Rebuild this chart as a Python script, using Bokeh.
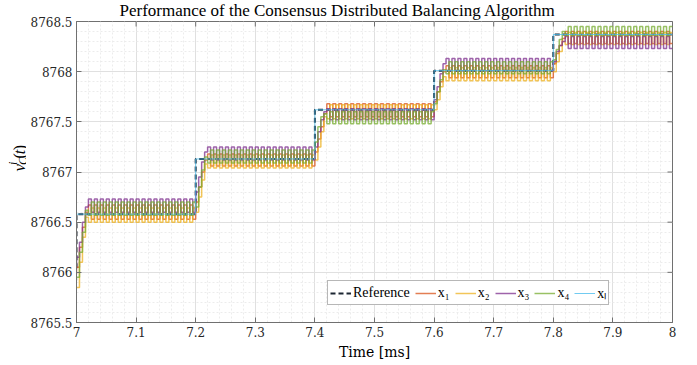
import math
from bokeh.plotting import figure
from bokeh.layouts import row
from bokeh.core.properties import value
from bokeh.models import Range1d, Legend, LegendItem, FixedTicker, CustomJSTickFormatter
from bokeh.embed import file_html
from bokeh.resources import INLINE

# ---------------- data ----------------
step_times = [7.0, 7.2, 7.4, 7.6, 7.8]
t_start = 6.99
t_end = 8.0
half_period = 0.005

ref_before = 8766.02
ref_levels = [8766.58, 8767.13, 8767.62, 8768.01, 8768.37]
xL_before = 8766.02
xL_levels = [8766.58, 8767.13, 8767.62, 8768.01, 8768.37]

# x1 (orange)
x1_start = 8765.98
x1_hi = [8766.67, 8767.18, 8767.68, 8768.06, 8768.40]
x1_lo = [8766.53, 8767.06, 8767.55, 8767.94, 8768.28]
x1_ramp = [[8766.05, 8766.25, 8766.45, 8766.60],
           [8766.70, 8766.85, 8767.00, 8767.12],
           [8767.20, 8767.33, 8767.45, 8767.58],
           [8767.70, 8767.80, 8767.90, 8768.00],
           [8768.08, 8768.18, 8768.26, 8768.33]]
# x2 (yellow)
x2_start = 8765.85
x2_hi = [8766.64, 8767.17, 8767.67, 8768.04, 8768.39]
x2_lo = [8766.50, 8767.04, 8767.53, 8767.91, 8768.27]
x2_ramp = [[8765.85, 8766.10, 8766.35, 8766.55],
           [8766.60, 8766.75, 8766.92, 8767.08],
           [8767.12, 8767.25, 8767.40, 8767.55],
           [8767.62, 8767.72, 8767.85, 8767.95],
           [8768.00, 8768.10, 8768.20, 8768.30]]
# x3 (purple)
x3_start = 8766.05
x3_hi = [8766.73, 8767.25, 8767.63, 8768.13, 8768.35]
x3_lo = [8766.60, 8767.12, 8767.52, 8768.01, 8768.23]
x3_ramp = [[8766.15, 8766.30, 8766.50, 8766.65],
           [8766.80, 8766.95, 8767.10, 8767.20],
           [8767.25, 8767.40, 8767.52, 8767.60],
           [8767.72, 8767.85, 8767.98, 8768.08],
           [8768.10, 8768.20, 8768.26, 8768.30]]
# x4 (green)
x4_start = 8765.92
x4_hi = [8766.70, 8767.22, 8767.60, 8768.10, 8768.45]
x4_lo = [8766.57, 8767.09, 8767.48, 8767.98, 8768.36]
x4_ramp = [[8765.95, 8766.20, 8766.40, 8766.62],
           [8766.65, 8766.85, 8767.02, 8767.15],
           [8767.30, 8767.45, 8767.55, 8767.58],
           [8767.68, 8767.80, 8767.92, 8768.02],
           [8768.12, 8768.22, 8768.32, 8768.40]]

x_range = (7.0, 8.0)
y_range = (8765.5, 8768.5)
x_ticks = [7.0, 7.1, 7.2, 7.3, 7.4, 7.5, 7.6, 7.7, 7.8, 7.9, 8.0]
x_tick_labels = ["7", "7.1", "7.2", "7.3", "7.4", "7.5", "7.6", "7.7", "7.8", "7.9", "8"]
y_ticks = [8765.5, 8766.0, 8766.5, 8767.0, 8767.5, 8768.0, 8768.5]
y_tick_labels = ["8765.5", "8766", "8766.5", "8767", "8767.5", "8768", "8768.5"]
x_minor = [round(7.0 + 0.02 * i, 2) for i in range(51)]
y_minor = [round(8765.5 + 0.1 * i, 1) for i in range(31)]

title_text = "Performance of the Consensus Distributed Balancing Algorithm"
x_label = "Time [ms]"
labels = ["Reference", "x₁", "x₂", "x₃", "x₄", "xₗ"]
colors = ["#D95319", "#EDB120", "#7E2F8E", "#77AC30"]
phases = [0, 1, 0, 1]

FONT = "Liberation Serif, serif"
AX = "#707070"
LABEL_W = 26
W, H = 697, 365

FMT_CODE = """
for (let i = 0; i < tvals.length; i++) {
  if (Math.abs(tvals[i] - tick) < 1e-6) { return tlabels[i]; }
}
return '';
"""


def build_signal(start, ramps, hi, lo, phase):
    ts, vs = [t_start], [start]
    for k, T in enumerate(step_times):
        for j, v in enumerate(ramps[k]):
            ts.append(T + j * half_period)
            vs.append(v)
        t = T + len(ramps[k]) * half_period
        nxt = step_times[k + 1] if k + 1 < len(step_times) else t_end
        n = 0
        while t < nxt - 1e-9:
            ts.append(t)
            vs.append(hi[k] if (n + phase) % 2 == 0 else lo[k])
            t += half_period
            n += 1
    ts.append(t_end)
    vs.append(vs[-1])
    return ts, vs


p = figure(width=W - LABEL_W, height=H, output_backend="svg", toolbar_location=None,
           x_range=Range1d(*x_range), y_range=Range1d(*y_range),
           min_border_left=76 - LABEL_W, min_border_right=25, min_border_top=20, min_border_bottom=43)
p.background_fill_color = "white"
p.border_fill_color = "white"
p.outline_line_color = AX
p.outline_line_width = 1

p.title.text = title_text
p.title.align = "left"
p.title.offset = 43
p.title.standoff = 0
p.title.vertical_align = "top"
p.title.text_font = FONT
p.title.text_font_size = "17px"
p.title.text_font_style = "normal"
p.title.text_color = "#000000"

# axes
for ax in [p.xaxis[0], p.yaxis[0]]:
    ax.major_tick_in = 5
    ax.major_tick_out = 0
    ax.minor_tick_in = 0
    ax.minor_tick_out = 0
    ax.axis_line_color = AX
    ax.major_tick_line_color = AX
    ax.major_label_text_font = "DejaVu Serif"
    ax.major_label_text_font_size = "12px"
    ax.major_label_text_color = "#262626"
    ax.axis_label_text_font = "DejaVu Serif"
    ax.axis_label_text_font_style = "normal"
    ax.axis_label_text_color = "#000000"

p.xaxis[0].ticker = FixedTicker(ticks=x_ticks, minor_ticks=x_minor)
p.yaxis[0].ticker = FixedTicker(ticks=y_ticks, minor_ticks=y_minor)
p.xaxis[0].formatter = CustomJSTickFormatter(args=dict(tvals=x_ticks, tlabels=x_tick_labels), code=FMT_CODE)
p.yaxis[0].formatter = CustomJSTickFormatter(args=dict(tvals=y_ticks, tlabels=y_tick_labels), code=FMT_CODE)
p.xaxis[0].axis_label = x_label
p.xaxis[0].axis_label_text_font_size = "14px"
p.xaxis[0].axis_label_standoff = 4
p.xaxis[0].major_label_standoff = 4
p.yaxis[0].major_label_standoff = 4

p.xgrid.ticker = FixedTicker(ticks=x_ticks, minor_ticks=x_minor)
p.ygrid.ticker = FixedTicker(ticks=y_ticks, minor_ticks=y_minor)
for g in [p.xgrid[0], p.ygrid[0]]:
    g.grid_line_color = "#e0e0e0"
    g.grid_line_width = 1
    g.minor_grid_line_color = "#ececec"
    g.minor_grid_line_dash = "2 2"
    g.minor_grid_line_width = 1

# inward box ticks on the top and right edges (half of each dash is clipped by the frame)
p.scatter(x_ticks, [y_range[1]] * len(x_ticks), marker="dash", size=10, angle=math.pi / 2,
          line_color=AX, line_width=1)
p.scatter([x_range[1]] * len(y_ticks), y_ticks, marker="dash", size=10,
          line_color=AX, line_width=1)

ref_t = [t_start] + step_times + [t_end]
ref_r = p.step(ref_t, [ref_before] + ref_levels + [ref_levels[-1]], mode="after",
               line_color="#1c2633", line_width=2, line_dash="5 3")

renderers = []
sigs = [(x1_start, x1_ramp, x1_hi, x1_lo), (x2_start, x2_ramp, x2_hi, x2_lo),
        (x3_start, x3_ramp, x3_hi, x3_lo), (x4_start, x4_ramp, x4_hi, x4_lo)]
for (st, rp, hi, lo), c, ph in zip(sigs, colors, phases):
    ts, vs = build_signal(st, rp, hi, lo, ph)
    r = p.step(ts, vs, mode="after", line_color=c, line_width=1.5, line_alpha=0.75)
    renderers.append(r)

xL_r = p.step(ref_t, [xL_before] + xL_levels + [xL_levels[-1]], mode="after",
              line_color="#4DBEEE", line_width=1.0, line_alpha=0.8)

legend = Legend(items=[LegendItem(label=labels[0], renderers=[ref_r])] +
                [LegendItem(label=labels[i + 1], renderers=[renderers[i]]) for i in range(4)] +
                [LegendItem(label=labels[5], renderers=[xL_r])],
                orientation="horizontal", location=(251, 17))
legend.label_text_font = FONT
legend.label_text_font_size = "14px"
legend.label_text_color = "#000000"
legend.glyph_width = 21
legend.glyph_height = 12
legend.label_standoff = 2
legend.label_width = 8
legend.spacing = 5
legend.padding = 2
legend.margin = 0
legend.border_line_color = AX
legend.border_line_width = 1
legend.background_fill_alpha = 1.0
legend.label_height = 12
p.add_layout(legend, "center")

# ---- y-axis label v_C^i(t) in a narrow side panel (x: px from left, y: px from bottom) ----
lf = figure(width=LABEL_W, height=H, output_backend="svg", toolbar_location=None,
            x_range=Range1d(0, LABEL_W), y_range=Range1d(0, H),
            x_axis_type=None, y_axis_type=None, min_border=0)
lf.outline_line_color = None
lf.background_fill_color = "white"
lf.border_fill_color = "white"
lf.xgrid.visible = False
lf.ygrid.visible = False
ylabel_parts = [("v", 19, 182, "17px", "italic"),
                ("i", 12, 174, "12px", "italic"),
                ("C", 22, 174, "12px", "italic"),
                ("(", 19, 166, "16px", "normal"),
                ("t", 19, 161, "16px", "italic"),
                (")", 19, 156, "16px", "normal")]
for txt, px, py, fs, sty in ylabel_parts:
    lf.text(x=[px], y=[H - py], text=[txt], angle=math.pi / 2, text_font=value(FONT),
            text_font_size=value(fs), text_font_style=sty, text_color="#000000",
            text_align="left", text_baseline="alphabetic")

layout = row(lf, p, spacing=0)
open("out.html", "w").write(file_html(layout, INLINE))
